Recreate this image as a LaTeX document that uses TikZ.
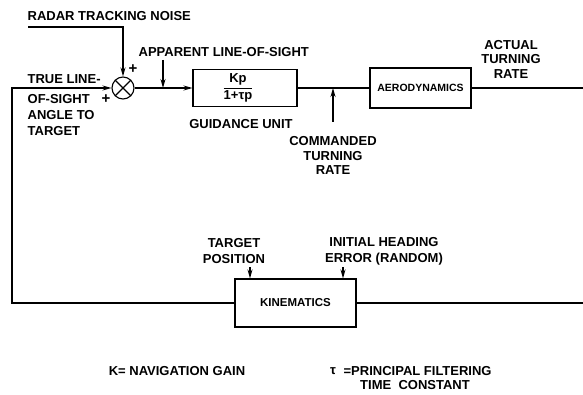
\documentclass[tikz,border=0pt]{standalone}
\usepackage{fontspec}
\setmainfont{Liberation Sans}
\usetikzlibrary{arrows.meta,calc}
\begin{document}
\begin{tikzpicture}[x=1pt,y=-1pt,
  line width=1.3pt,
  arr/.style={-{Stealth[length=9pt,width=5pt]}},
  blk/.style={draw,rectangle,inner sep=0pt,line width=1.1pt},
  lbl/.style={font=\bfseries\fontsize{13}{14.5}\selectfont,inner sep=0pt},
  sumj/.style={draw,circle,minimum size=22pt,inner sep=0pt,line width=1.1pt,
    path picture={\draw[line width=1.1pt]
      (path picture bounding box.center) ++(45:11pt) -- ++(225:22pt)
      (path picture bounding box.center) ++(135:11pt) -- ++(315:22pt);}}]
\useasboundingbox (0,0) rectangle (583,395);

% blocks
\node[sumj] (sum) at (123,88) {};
\node[blk,minimum width=104pt,minimum height=37pt,font=\bfseries\fontsize{13}{13}\selectfont] (gu) at (245,88)
  {\hspace*{-14pt}$\displaystyle\frac{\hbox{Kp}}{\hbox{1+τp}}$};
\node[blk,minimum width=101pt,minimum height=40pt,font=\bfseries\fontsize{10.5}{12}\selectfont] (aero) at (420.5,88) {AERODYNAMICS};
\node[blk,minimum width=121pt,minimum height=48pt,font=\bfseries\fontsize{11.5}{13}\selectfont] (kin) at (295.5,303) {KINEMATICS};

% coordinates
\coordinate (nstart) at (28,27);
\coordinate (lt) at (12,88);
\coordinate (lb) at (12,303);
\coordinate (rend) at (583,88);
\coordinate (rbend) at (583,303);
\coordinate (apt) at (163,60);
\coordinate (cmd) at (333,122);
\coordinate (tpos) at (250,267);
\coordinate (ihe) at (343,267);

% connectors
\draw[arr] (nstart) -| (sum.north);
\draw[arr] (kin.west) -- (lb) -- (lt) -- (sum.west);
\draw[arr] (sum.east) -- (gu.west);
\draw (gu.east) -- (aero.west);
\draw (aero.east) -- (rend);
\draw (kin.east) -- (rbend);
\draw[arr] (apt) -- (apt |- sum.east);
\draw[arr] (cmd) -- (cmd |- gu.east);
\draw[arr] (tpos) -- (tpos |- kin.north);
\draw[arr] (ihe) -- (ihe |- kin.north);

% labels
\node[lbl,anchor=west] (lnoise) at (27,16) {RADAR TRACKING NOISE};
\node[lbl,anchor=west] (lapp) at (138,52) {APPARENT LINE-OF-SIGHT};
\node[lbl,anchor=west] (ltrue1) at (27,79) {TRUE LINE-};
\node[lbl,anchor=north west,align=left,font=\bfseries\fontsize{13}{16}\selectfont] (ltrue2) at (27,94) {OF-SIGHT\\ANGLE TO\\TARGET};
\node[lbl,font=\bfseries\fontsize{15}{15}\selectfont] (plus1) at (133,69) {+};
\node[lbl,font=\bfseries\fontsize{15}{15}\selectfont] (plus2) at (106,99) {+};
\node[lbl] (lgu) at (241,124) {GUIDANCE UNIT};
\node[lbl,align=center,anchor=north] (lcmd) at (333,136) {COMMANDED\\TURNING\\RATE};
\node[lbl,align=center] (lact) at (511,59) {ACTUAL\\TURNING\\RATE};
\node[lbl,align=center,font=\bfseries\fontsize{13}{16}\selectfont] (ltp) at (234,251) {TARGET\\POSITION};
\node[lbl,align=center,font=\bfseries\fontsize{13}{16}\selectfont] (lihe) at (384,251) {INITIAL HEADING\\ERROR (RANDOM)};
\node[lbl] (lk) at (177,371) {K= NAVIGATION GAIN};
\node[lbl] (ltaus) at (333,371) {τ};
\node[lbl,anchor=west] (ltau) at (343,371) {=PRINCIPAL FILTERING};
\node[lbl] (ltc) at (415,385) {TIME\ \ CONSTANT};
\end{tikzpicture}
\end{document}
